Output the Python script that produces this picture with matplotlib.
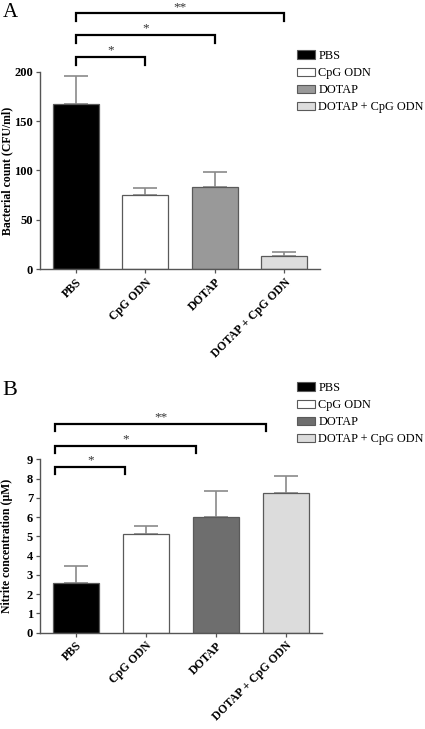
import matplotlib.pyplot as plt
from matplotlib.patches import Patch

plt.rcParams['font.family'] = ['Liberation Serif', 'DejaVu Serif']

#------------------------------------------------
# data
groups = ['PBS', 'CpG ODN', 'DOTAP', 'DOTAP + CpG ODN']

cfu_mean = [167, 75, 83, 13]
cfu_err = [29, 7, 15, 5]
colors_a = ['#000000', '#ffffff', '#999999', '#dddddd']

nitrite_mean = [2.6, 5.1, 6.0, 7.27]
nitrite_err = [0.85, 0.42, 1.35, 0.87]
colors_b = ['#000000', '#ffffff', '#6e6e6e', '#dcdcdc']

# significance brackets: (from, to, label, height)
sig_a = [(0, 1, '*', 215), (0, 2, '*', 237), (0, 3, '**', 259)]
sig_b = [(0, 1, '*', 8.62), (0, 2, '*', 9.71), (0, 3, '**', 10.84)]

#------------------------------------------------
fig = plt.figure(figsize=(4.25, 7.29), dpi=100)

ax_a = fig.add_axes([40/425, 1-269.3/729, 280/425, 197.6/729])
ax_b = fig.add_axes([40/425, 1-632.7/729, 281.7/425, 173.3/729])


def draw_panel(ax, means, errs, colors, sig, ylim, yticks, ylabel, drop, bshift):
    x = list(range(len(groups)))
    ax.bar(x, means, width=0.66, color=colors, edgecolor='#5a5a5a', linewidth=0.9, zorder=2)
    ax.errorbar(x, means, yerr=[[0]*len(errs), errs], fmt='none', ecolor='#8a8a8a',
                elinewidth=1.2, capsize=8.5, capthick=1.2, zorder=1)
    ax.set_ylim(*ylim)
    ax.set_xlim(-0.51, 3.51)
    ax.set_yticks(yticks)
    ax.set_xticks(x)
    ax.set_xticklabels(groups, rotation=45, ha='right', rotation_mode='anchor',
                       fontsize=8.5, fontweight='bold')
    for lab in ax.get_yticklabels():
        lab.set_fontweight('bold')
        lab.set_fontsize(9)
    ax.set_ylabel(ylabel, fontsize=8.5, fontweight='bold')
    # put the rotated label close to the figure edge, like the original
    w = ax.get_position().width * 425
    ax.yaxis.set_label_coords(-27 / w, 0.5)
    for s in ['top', 'right']:
        ax.spines[s].set_visible(False)
    for s in ['left', 'bottom']:
        ax.spines[s].set_color('#555555')
        ax.spines[s].set_linewidth(1.0)
    ax.tick_params(axis='both', length=3, width=0.9, color='#555555', pad=2)

    # brackets
    for i, j, lab, h in sig:
        x0 = i + bshift[0]
        x1 = j + bshift[1]
        ax.plot([x0, x0, x1, x1], [h - drop, h, h, h - drop], color='black', lw=1.6,
                clip_on=False, solid_joinstyle='miter')
        ax.text((x0 + x1) / 2, h + drop * 0.05, lab, ha='center', va='bottom', fontsize=9.5,
                color='#333333', clip_on=False)


draw_panel(ax_a, cfu_mean, cfu_err, colors_a, sig_a, (0, 200), [0, 50, 100, 150, 200],
           'Bacterial count (CFU/ml)', 8, (0, 0))
draw_panel(ax_b, nitrite_mean, nitrite_err, colors_b, sig_b, (0, 9), range(0, 10),
           'Nitrite concentration (µM)', 0.37, (-0.29, -0.29))

# legends
for ax, colors, ytop in [(ax_a, colors_a, 50), (ax_b, colors_b, 382)]:
    handles = [Patch(facecolor=c, edgecolor='#5a5a5a', linewidth=0.8) for c in colors]
    ax.legend(handles, groups, loc='upper left', bbox_to_anchor=(297/425, 1 - ytop/729),
              bbox_transform=fig.transFigure, frameon=False, fontsize=8.8,
              handlelength=1.5, handleheight=0.7, handletextpad=0.25,
              labelspacing=0.42, borderaxespad=0, borderpad=0)

fig.text(3/425, 1 - 3/729, 'A', fontsize=15, va='top', ha='left')
fig.text(2/425, 1 - 381/729, 'B', fontsize=16, va='top', ha='left')

plt.savefig('out.png', dpi=100)
